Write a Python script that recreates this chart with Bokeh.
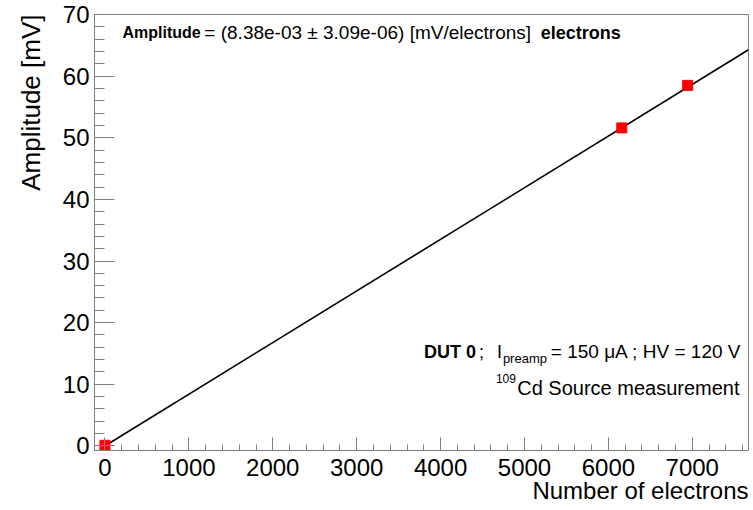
from bokeh.plotting import figure
from bokeh.models import Range1d, Label, SingleIntervalTicker, ColumnDataSource, Title
from bokeh.embed import file_html
from bokeh.resources import INLINE

# ---- data ----
electrons = [0, 6160, 6945]
amplitude_mV = [0.1, 51.6, 58.5]
fit_slope = 8.38e-03
fit_slope_err = 3.09e-06
fit_x = [-60, 7670]
fit_y = [fit_slope * v for v in fit_x]

x_title = "Number of electrons"
y_title = "Amplitude [mV]"

XMIN, XMAX = -125, 7670
YMIN, YMAX = -0.75, 70

FONT = "Liberation Sans"
AXIS_COL = "#808080"

# frame position in picture pixels (for placing annotations)
FL, FR, FT, FB = 93, 748, 14, 450
W, H = 753, 510


def dx(px):
    return XMIN + (px - FL) / (FR - FL) * (XMAX - XMIN)


def dy(py):
    return YMAX - (py - FT) / (FB - FT) * (YMAX - YMIN)


p = figure(width=W, height=H, output_backend="svg", toolbar_location=None,
           x_range=Range1d(XMIN, XMAX), y_range=Range1d(YMIN, YMAX),
           min_border_left=FL, min_border_right=W - FR, min_border_top=FT,
           min_border_bottom=H - FB)
p.background_fill_color = "white"
p.border_fill_color = "white"
p.outline_line_color = AXIS_COL
p.outline_line_width = 1
p.xgrid.visible = False
p.ygrid.visible = False

p.xaxis.ticker = SingleIntervalTicker(interval=1000, num_minor_ticks=5)
p.yaxis.ticker = SingleIntervalTicker(interval=10, num_minor_ticks=5)

for ax, tin, tmin, standoff in ((p.xaxis, 13, 6, 8), (p.yaxis, 20, 10, 5)):
    ax.axis_line_color = AXIS_COL
    ax.major_tick_line_color = AXIS_COL
    ax.minor_tick_line_color = AXIS_COL
    ax.major_tick_in = tin
    ax.major_tick_out = 0
    ax.minor_tick_in = tmin
    ax.minor_tick_out = 0
    ax.major_label_text_font = FONT
    ax.major_label_text_font_size = "24px"
    ax.major_label_text_color = "black"
    ax.major_label_standoff = standoff

# axis titles, aligned to the high end of each axis (ROOT style)
p.add_layout(Title(text=x_title, align="right", text_font=FONT, text_color="black",
                   text_font_size="24px", text_font_style="normal", standoff=-7), "below")
p.add_layout(Title(text=y_title, align="right", text_font=FONT, text_color="black",
                   text_font_size="26px", text_font_style="normal", standoff=27), "left")

# fit line
p.line(fit_x, fit_y, line_color="black", line_width=1.6)

# data points
src = ColumnDataSource(dict(x=electrons, y=amplitude_mV))
p.scatter("x", "y", source=src, marker="square", size=10, fill_color="#ff0000",
          line_color="#ff0000")


def lab(text, px, py, size, bold=False, align="left", baseline="alphabetic"):
    p.add_layout(Label(x=dx(px), y=dy(py), text=text, text_font=FONT,
                       text_font_size=f"{size}px",
                       text_font_style="bold" if bold else "normal",
                       text_align=align, text_baseline=baseline,
                       text_color="black"))


# fit result
lab("Amplitude", 121, 32, 16, bold=True)
lab(f"= ({fit_slope:.2e} \u00b1 {fit_slope_err:.2e}) [mV/electrons]", 203, 32, 19)
lab("electrons", 540, 32, 18, bold=True)

# DUT info
lab("DUT 0", 423, 351, 18, bold=True)
lab(";", 478, 351, 18)
lab("I", 496, 351, 18)
lab("preamp", 502, 358, 13)
lab("= 150 \u03bcA ;", 550, 351, 19)
lab("HV = 120 V", 740, 351, 19, align="right")
lab("109", 495, 378, 12)
lab("Cd Source measurement", 739, 387, 20, align="right")

open("out.html", "w").write(file_html(p, INLINE))
